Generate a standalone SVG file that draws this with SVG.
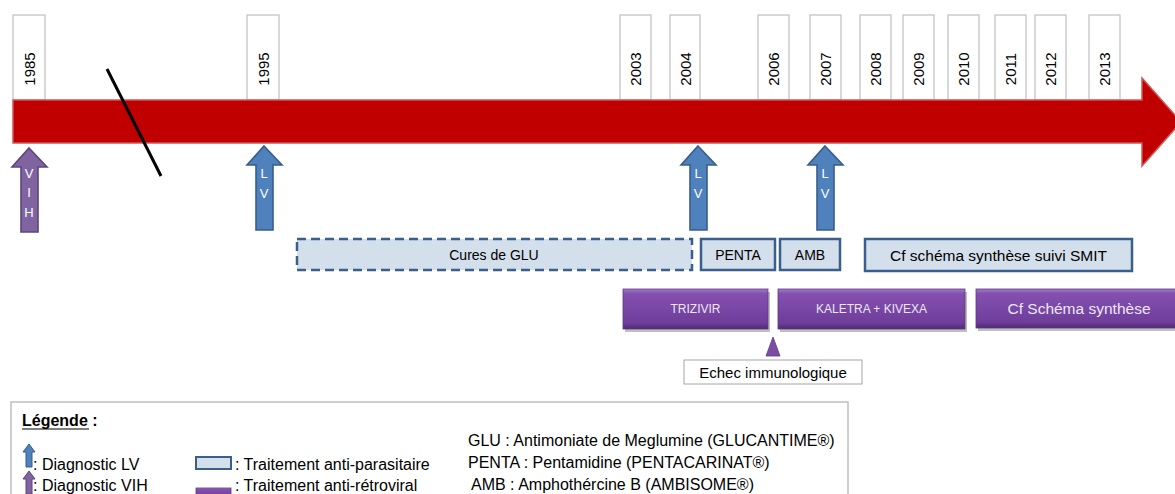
<svg xmlns="http://www.w3.org/2000/svg" width="1175" height="494" viewBox="0 0 1175 494">
<style>
text{font-family:"Liberation Sans",Arial,sans-serif;}
.yr{fill:#fff;stroke:#BFBFBF;stroke-width:1.2;}
.yt{font-size:15px;fill:#000;text-anchor:middle;}
.lvar{fill:#4F81BD;stroke:#385D8A;stroke-width:1.6;}
.vihar{fill:#8064A2;stroke:#5C4776;stroke-width:1.6;}
.al{font-size:13px;fill:#fff;text-anchor:middle;}
.para{fill:#D4DFEC;stroke:#3A5F8C;stroke-width:2.5;}
.pt{font-size:14px;fill:#000;text-anchor:middle;}
.arv{fill:url(#purp);stroke:#5E3A82;stroke-width:0.8;}
.shadow{fill:#000;opacity:0.25;}
.at{font-size:12px;fill:#EDE6F5;text-anchor:middle;}
.lg{font-size:16px;fill:#000;}
</style>
<defs>
<linearGradient id="purp" x1="0" y1="0" x2="0" y2="1">
<stop offset="0" stop-color="#A27AC9"/>
<stop offset="0.12" stop-color="#8450B0"/>
<stop offset="0.85" stop-color="#6E3E9A"/>
<stop offset="1" stop-color="#4F2A72"/>
</linearGradient>
<path id="uparrow" d="M0,0 L18,19 L9,19 L9,84 L-8,84 L-8,19 L-17,19 Z"/>
<path id="smallarrow" d="M0,0 L6,8 L3,8 L3,23 L-3,23 L-3,8 L-6,8 Z"/>
</defs>

<g id="years">
<rect class="yr" x="13" y="15" width="32" height="85"/>
<text class="yt" transform="translate(34.5,69) rotate(-90)">1985</text>
<rect class="yr" x="247" y="15" width="32" height="85"/>
<text class="yt" transform="translate(268.5,69) rotate(-90)">1995</text>
<rect class="yr" x="620" y="15" width="31" height="85"/>
<text class="yt" transform="translate(641,69) rotate(-90)">2003</text>
<rect class="yr" x="670" y="15" width="30" height="85"/>
<text class="yt" transform="translate(690.5,69) rotate(-90)">2004</text>
<rect class="yr" x="758" y="15" width="31" height="85"/>
<text class="yt" transform="translate(779,69) rotate(-90)">2006</text>
<rect class="yr" x="810" y="15" width="31" height="85"/>
<text class="yt" transform="translate(831,69) rotate(-90)">2007</text>
<rect class="yr" x="860" y="15" width="31" height="85"/>
<text class="yt" transform="translate(881,69) rotate(-90)">2008</text>
<rect class="yr" x="903" y="15" width="31" height="85"/>
<text class="yt" transform="translate(924,69) rotate(-90)">2009</text>
<rect class="yr" x="948" y="15" width="31" height="85"/>
<text class="yt" transform="translate(969,69) rotate(-90)">2010</text>
<rect class="yr" x="995" y="15" width="31" height="85"/>
<text class="yt" transform="translate(1016,69) rotate(-90)">2011</text>
<rect class="yr" x="1035" y="15" width="31" height="85"/>
<text class="yt" transform="translate(1056,69) rotate(-90)">2012</text>
<rect class="yr" x="1089" y="15" width="31" height="85"/>
<text class="yt" transform="translate(1110,69) rotate(-90)">2013</text>
</g>

<g id="timeline">
<path d="M13,100 L1142,100 L1142,78 L1181,122 L1142,166 L1142,143 L13,143 Z" fill="#C00000" stroke="#D25555" stroke-width="1.5"/>
<line x1="107" y1="69" x2="161" y2="176" stroke="#000" stroke-width="3"/>
</g>

<g id="diag-vih-1985">
<use href="#uparrow" class="vihar" transform="translate(29,148)"/>
<text class="al" x="29" y="178">V</text>
<text class="al" x="29" y="197">I</text>
<text class="al" x="29" y="217">H</text>
</g>
<g id="diag-lv-1995">
<use href="#uparrow" class="lvar" transform="translate(264,146)"/>
<text class="al" x="264" y="178">L</text>
<text class="al" x="264" y="198">V</text>
</g>
<g id="diag-lv-2004">
<use href="#uparrow" class="lvar" transform="translate(698,146)"/>
<text class="al" x="698" y="178">L</text>
<text class="al" x="698" y="198">V</text>
</g>
<g id="diag-lv-2007">
<use href="#uparrow" class="lvar" transform="translate(825,146)"/>
<text class="al" x="825" y="178">L</text>
<text class="al" x="825" y="198">V</text>
</g>

<g id="glu">
<rect class="para" x="297" y="239" width="395" height="31" stroke-dasharray="9,5"/>
<text class="pt" x="494" y="260">Cures de GLU</text>
</g>
<g id="penta">
<rect class="para" x="701" y="239" width="74" height="31"/>
<text class="pt" x="738" y="260">PENTA</text>
</g>
<g id="amb">
<rect class="para" x="780" y="239" width="60" height="31"/>
<text class="pt" x="810" y="260">AMB</text>
</g>
<g id="smit">
<rect class="para" x="865" y="239" width="267" height="32"/>
<text class="pt" x="998.5" y="261" style="font-size:15.5px">Cf schéma synthèse suivi SMIT</text>
</g>

<g id="trizivir">
<rect class="shadow" x="625" y="292" width="145" height="40"/>
<rect class="arv" x="623" y="289" width="145" height="40"/>
<text class="at" x="695.5" y="313">TRIZIVIR</text>
</g>
<g id="kaletra">
<rect class="shadow" x="780" y="292" width="187" height="40"/>
<rect class="arv" x="778" y="289" width="187" height="40"/>
<text class="at" x="871.5" y="313">KALETRA + KIVEXA</text>
</g>
<g id="cf-synthese">
<rect class="shadow" x="978" y="292" width="200" height="39"/>
<rect class="arv" x="976" y="289" width="202" height="39"/>
<text class="at" x="1079" y="314" style="font-size:15.5px">Cf Schéma synthèse</text>
</g>

<g id="echec">
<path d="M773,337 L780,356 L766,356 Z" fill="#7A4FA3" stroke="#5E3A82" stroke-width="0.8"/>
<rect x="684" y="360" width="178" height="24" fill="#fff" stroke="#A6A6A6" stroke-width="1"/>
<text class="pt" x="773" y="378" style="font-size:15px">Echec immunologique</text>
</g>

<g id="legend">
<rect x="11" y="402" width="837" height="100" fill="#fff" stroke="#BFBFBF" stroke-width="1.5"/>
<text x="22" y="426" style="font-size:16px;font-weight:bold">Légende :</text>
<line x1="22" y1="429" x2="89" y2="429" stroke="#000" stroke-width="1.2"/>
<use href="#smallarrow" class="lvar" transform="translate(29,444)" style="stroke-width:1"/>
<text class="lg" x="33" y="470">: Diagnostic LV</text>
<use href="#smallarrow" class="vihar" transform="translate(29,471)" style="stroke-width:1"/>
<text class="lg" x="33" y="491">: Diagnostic VIH</text>
<rect class="para" x="196" y="457" width="35" height="12" style="stroke-width:2"/>
<text class="lg" x="235" y="470">: Traitement anti-parasitaire</text>
<rect class="arv" x="196" y="488" width="35" height="10"/>
<text class="lg" x="235" y="491">: Traitement anti-rétroviral</text>
<text class="lg" x="468" y="446">GLU : Antimoniate de Meglumine (GLUCANTIME®)</text>
<text class="lg" x="468" y="468">PENTA : Pentamidine (PENTACARINAT®)</text>
<text class="lg" x="471" y="490">AMB : Amphothércine B (AMBISOME®)</text>
</g>
</svg>
